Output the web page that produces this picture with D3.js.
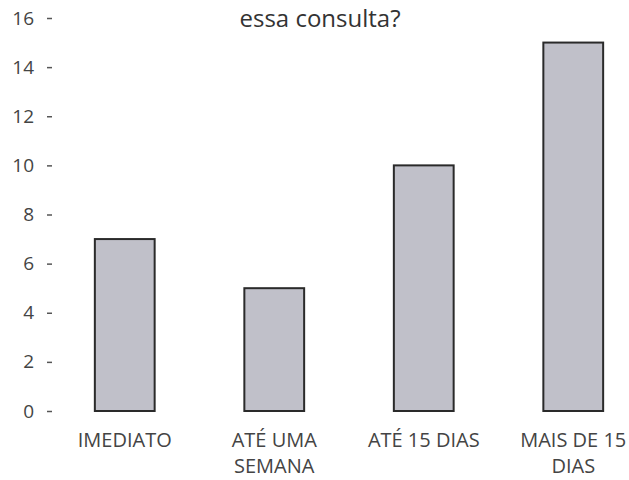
<!DOCTYPE html>
<html>
<head>
<meta charset="utf-8">
<script src="https://cdn.jsdelivr.net/npm/d3@7"></script>
<style>
  html, body { margin: 0; padding: 0; background: #fff; }
  svg { display: block; }
</style>
</head>
<body>
<div id="chart"></div>
<script>
const categories = [["IMEDIATO"], ["ATÉ UMA", "SEMANA"], ["ATÉ 15 DIAS"], ["MAIS DE 15", "DIAS"]];
const values = [7, 5, 10, 15];
const shownLabels = [null, null, null, "15"];
const yTicks = [0, 2, 4, 6, 8, 10, 12, 14, 16];
const titleText = "essa consulta?";

const W = 629, H = 480;
const font = "'Open Sans', sans-serif";
const svg = d3.select("#chart").append("svg").attr("width", W).attr("height", H);

const x = d3.scaleBand().domain(d3.range(categories.length))
  .range([50, 648]).paddingInner(0.6).paddingOuter(0.3);
const y = d3.scaleLinear().domain([0, 16]).range([411, 18]);

// title (kept just inside the top edge)
svg.append("text").attr("x", 320).attr("y", 27)
  .attr("text-anchor", "middle").attr("font-family", font)
  .attr("font-size", 24).attr("fill", "#333").text(titleText);

// y axis
const yAxis = svg.append("g").attr("transform", "translate(52,0)")
  .call(d3.axisLeft(y).tickValues(yTicks).tickSize(5).tickPadding(13));
yAxis.select(".domain").remove();
yAxis.selectAll(".tick line").attr("stroke", "#555").attr("stroke-width", 1.5);
yAxis.selectAll(".tick text").attr("font-family", font).attr("font-size", 19)
  .attr("fill", "#444");

// bars
svg.append("g").selectAll("rect").data(values).join("rect")
  .attr("x", (d, i) => x(i))
  .attr("y", d => y(d))
  .attr("width", x.bandwidth())
  .attr("height", d => y(0) - y(d))
  .attr("fill", "#c0c0c9")
  .attr("stroke", "#2a2a2a")
  .attr("stroke-width", 2);

// data labels
svg.append("g").selectAll("text").data(values).join("text")
  .filter((d, i) => shownLabels[i] !== null)
  .attr("x", (d, i) => x(i) + x.bandwidth() / 2)
  .attr("y", d => y(d) - 14)
  .attr("text-anchor", "middle").attr("font-family", font)
  .attr("font-size", 17).attr("fill", "#333")
  .text((d, i) => shownLabels[i]);

// x labels
const xl = svg.append("g").selectAll("text").data(categories).join("text")
  .attr("x", (d, i) => x(i) + x.bandwidth() / 2)
  .attr("y", 447)
  .attr("text-anchor", "middle").attr("font-family", font)
  .attr("font-size", 20).attr("fill", "#444");
xl.selectAll("tspan").data(d => d).join("tspan")
  .attr("x", function() { return this.parentNode.getAttribute("x"); })
  .attr("dy", (d, j) => j === 0 ? 0 : 26)
  .text(d => d);
</script>
</body>
</html>
